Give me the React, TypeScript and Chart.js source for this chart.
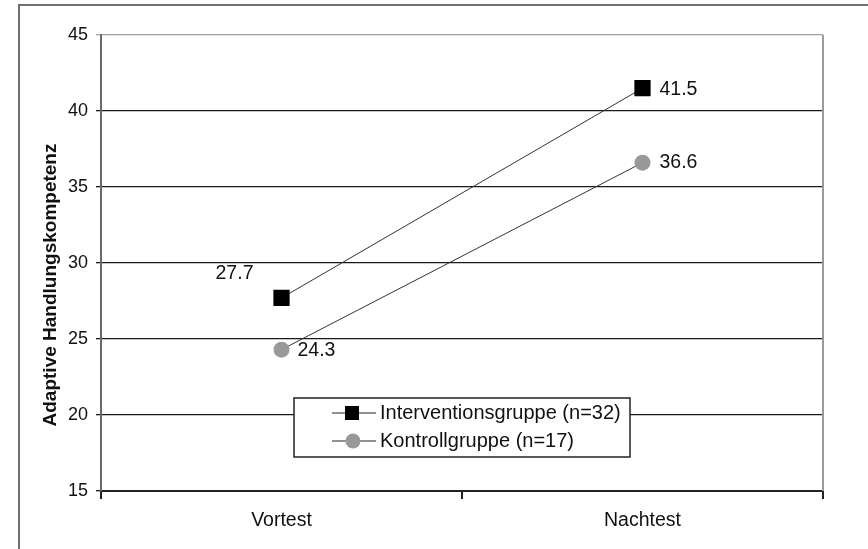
import React, { useEffect, useRef } from "react";
import { Chart, registerables } from "chart.js";

Chart.register(...registerables);

const categories = ["Vortest", "Nachtest"];
const seriesNames = ["Interventionsgruppe (n=32)", "Kontrollgruppe (n=17)"];
const interventionValues = [27.7, 41.5];
const kontrollValues = [24.3, 36.6];
const yTicks = [15, 20, 25, 30, 35, 40, 45];
const yTitle = "Adaptive Handlungskompetenz";

const FONT = "'Liberation Sans', Arial, sans-serif";

// label offsets (style): [dx, dy, align] per dataset per point
const labelOffsets = [
  [
    [-47, -24, "center"],
    [17, 1, "left"],
  ],
  [
    [16, 1, "left"],
    [17, 0, "left"],
  ],
];

const decorPlugin = {
  id: "decor",
  beforeDraw(chart: any) {
    const ctx = chart.ctx;
    ctx.save();
    ctx.strokeStyle = "#6f6f6f";
    ctx.lineWidth = 2;
    ctx.beginPath();
    ctx.moveTo(19, 560);
    ctx.lineTo(19, 5);
    ctx.lineTo(880, 5);
    ctx.stroke();
    ctx.restore();
  },
  afterDatasetsDraw(chart: any) {
    const ctx = chart.ctx;
    const ca = chart.chartArea;
    ctx.save();
    // right border of plot
    ctx.strokeStyle = "#9a9a9a";
    ctx.lineWidth = 2;
    ctx.beginPath();
    ctx.moveTo(ca.right, ca.top);
    ctx.lineTo(ca.right, ca.bottom);
    ctx.stroke();

    // data labels
    ctx.fillStyle = "#111";
    ctx.font = "19.5px " + FONT;
    ctx.textBaseline = "middle";
    chart.data.datasets.forEach((ds: any, di: number) => {
      const meta = chart.getDatasetMeta(di);
      meta.data.forEach((pt: any, i: number) => {
        const [dx, dy, align] = labelOffsets[di][i] as any;
        ctx.textAlign = align;
        ctx.fillText(ds.data[i].toFixed(1), pt.x + dx, pt.y + dy);
      });
    });

    // legend box
    const bx = 294, by = 398, bw = 336, bh = 59;
    ctx.fillStyle = "#fff";
    ctx.fillRect(bx, by, bw, bh);
    ctx.strokeStyle = "#222";
    ctx.lineWidth = 1.5;
    ctx.strokeRect(bx, by, bw, bh);
    const rows = [413, 441];
    chart.data.datasets.forEach((ds: any, di: number) => {
      const y = rows[di];
      ctx.strokeStyle = "#222";
      ctx.lineWidth = 1;
      ctx.beginPath();
      ctx.moveTo(332, y);
      ctx.lineTo(376, y);
      ctx.stroke();
      ctx.fillStyle = ds.pointBackgroundColor;
      if (ds.pointStyle === "rect") {
        ctx.fillRect(352 - 7, y - 7, 14, 14);
      } else {
        ctx.beginPath();
        ctx.arc(353, y, 7.5, 0, Math.PI * 2);
        ctx.fill();
      }
      ctx.fillStyle = "#111";
      ctx.font = "20px " + FONT;
      ctx.textAlign = "left";
      ctx.textBaseline = "middle";
      ctx.fillText(ds.label, 380, y);
    });

    // y title
    ctx.save();
    ctx.translate(51, 285);
    ctx.rotate(-Math.PI / 2);
    ctx.fillStyle = "#111";
    ctx.font = "bold 19px " + FONT;
    ctx.textAlign = "center";
    ctx.textBaseline = "middle";
    ctx.fillText(yTitle, 0, 0);
    ctx.restore();

    ctx.restore();
  },
};

export default function App() {
  const ref = useRef<HTMLCanvasElement>(null);
  useEffect(() => {
    const canvas = ref.current!;
    const chart = new Chart(canvas, {
      type: "line",
      data: {
        labels: categories,
        datasets: [
          {
            label: seriesNames[0],
            data: interventionValues,
            borderColor: "#333",
            borderWidth: 1,
            pointStyle: "rect",
            pointRadius: 11.5,
            pointBackgroundColor: "#000",
            pointBorderWidth: 0,
          },
          {
            label: seriesNames[1],
            data: kontrollValues,
            borderColor: "#333",
            borderWidth: 1,
            pointStyle: "circle",
            pointRadius: 8,
            pointBackgroundColor: "#999",
            pointBorderWidth: 0,
          },
        ] as any,
      },
      options: {
        animation: false,
        responsive: false,
        layout: { padding: { top: 35, right: 45, bottom: 0, left: 0 } },
        plugins: { legend: { display: false }, tooltip: { enabled: false } },
        scales: {
          x: {
            type: "category",
            offset: true,
            afterFit(scale: any) {
              scale.height = 58;
            },
            grid: {
              offset: true,
              drawOnChartArea: false,
              drawTicks: true,
              tickLength: 8,
              color: "#222",
              lineWidth: 2,
            },
            border: { color: "#222", width: 2 },
            ticks: {
              color: "#111",
              font: { family: FONT, size: 19.5 },
              padding: 10,
            },
          },
          y: {
            min: yTicks[0],
            max: yTicks[yTicks.length - 1],
            afterFit(scale: any) {
              scale.width = 101;
            },
            afterBuildTicks(scale: any) {
              scale.ticks = yTicks.map((v) => ({ value: v }));
            },
            ticks: {
              stepSize: 5,
              color: "#111",
              font: { family: FONT, size: 18 },
              padding: 8,
            },
            grid: {
              color: (c: any) =>
                c.tick && c.tick.value === yTicks[yTicks.length - 1] ? "#a0a0a0" : "#1a1a1a",
              lineWidth: 1.3,
              tickLength: 5,
            },
            border: { color: "#6a6a6a", width: 2 },
          },
        },
      } as any,
      plugins: [decorPlugin],
    });
    return () => chart.destroy();
  }, []);
  return (
    <div style={{ position: "fixed", left: 0, top: 0, width: 868, height: 549, background: "#fff" }}>
      <canvas ref={ref} width={868} height={549} style={{ display: "block" }} />
    </div>
  );
}
